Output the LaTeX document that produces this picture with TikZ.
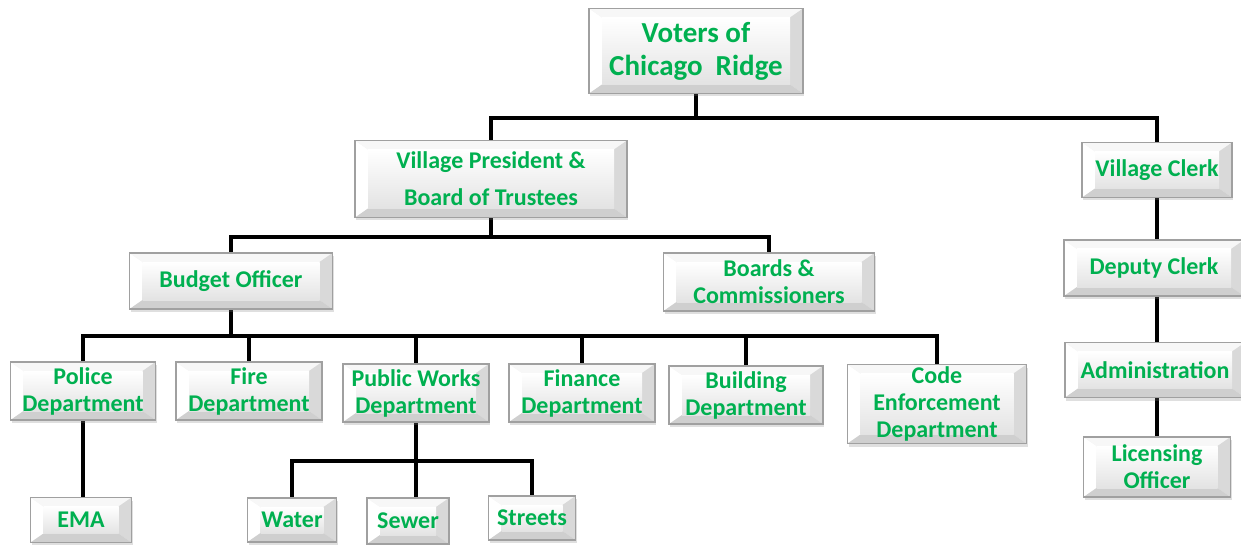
\documentclass[tikz,border=0pt]{standalone}
\usepackage{fontspec}
\setmainfont{Carlito}
\usepackage{tikz}
\usetikzlibrary{calc, shadows, backgrounds}
\definecolor{orggreen}{RGB}{0, 176, 80}
\definecolor{rimgray}{RGB}{160, 160, 160}

\begin{document}
\begin{tikzpicture}[x=1pt, y=-1pt,
    orgbox/.style={rectangle, draw=rimgray, line width=1.2pt, fill=gray!10, align=center,
                   text=orggreen, font=\fontsize{24}{27}\selectfont\bfseries, inner sep=1pt,
                   drop shadow={opacity=0.25, shadow xshift=1pt, shadow yshift=-3pt},
                   path picture={
                     \path (path picture bounding box.south west) coordinate (bsw)
                           (path picture bounding box.north east) coordinate (bne);
                     \path ($(bsw)+(13pt,9pt)$) coordinate (isw)
                           ($(bne)+(-13pt,-9pt)$) coordinate (ine);
                     \fill[white] (bsw) -- (bsw |- bne) -- (isw |- ine) -- (isw) -- cycle;
                     \fill[gray!6] (bsw |- bne) -- (bne) -- (ine) -- (isw |- ine) -- cycle;
                     \fill[gray!30] (bne) -- (bne |- bsw) -- (ine |- isw) -- (ine) -- cycle;
                     \fill[gray!38] (bne |- bsw) -- (bsw) -- (isw) -- (ine |- isw) -- cycle;
                     \shade[top color=white, bottom color=gray!22] (isw) rectangle (ine);
                   }},
    link/.style={line width=4pt, black}
]
\useasboundingbox (0,0) rectangle (1241,545);

\node[orgbox, minimum width=214, minimum height=85, font=\fontsize{29}{33}\selectfont\bfseries]
    (voters) at (696,51) {Voters of\\Chicago~~Ridge};
\node[orgbox, minimum width=272, minimum height=77] (pres) at (491,179) {Village President \&\\[10pt]Board of Trustees};
\node[orgbox, minimum width=150, minimum height=55] (clerk) at (1157,170) {Village Clerk};

\node[orgbox, minimum width=203, minimum height=56] (budget) at (231,281) {Budget Officer};
\node[orgbox, minimum width=211, minimum height=58] (boards) at (769,282) {Boards \&\\Commissioners};
\node[orgbox, minimum width=180, minimum height=56] (deputy) at (1154,268) {Deputy Clerk};
\node[orgbox, minimum width=180, minimum height=55] (admin) at (1155,370) {Administration};
\node[orgbox, minimum width=147, minimum height=60] (licensing) at (1157,467) {Licensing\\Officer};

\node[orgbox, minimum width=145, minimum height=58] (police) at (83,391) {Police\\Department};
\node[orgbox, minimum width=146, minimum height=58] (fire) at (249,391) {Fire\\Department};
\node[orgbox, minimum width=146, minimum height=58] (public) at (416,393) {Public Works\\Department};
\node[orgbox, minimum width=146, minimum height=58] (finance) at (582,393) {Finance\\Department};
\node[orgbox, minimum width=154, minimum height=58] (building) at (746,395) {Building\\Department};
\node[orgbox, minimum width=179, minimum height=79] (code) at (937,404) {Code\\Enforcement\\Department};

\node[orgbox, minimum width=101, minimum height=45] (ema) at (81,520) {EMA};
\node[orgbox, minimum width=89, minimum height=44] (water) at (292,520) {Water};
\node[orgbox, minimum width=82, minimum height=46] (sewer) at (408,521) {Sewer};
\node[orgbox, minimum width=87, minimum height=44] (streets) at (532,518) {Streets};

\coordinate (j1) at (696,118);
\coordinate (j2) at (491,237);
\coordinate (j3) at (231,336);
\coordinate (j4) at (416,461);

\begin{scope}[on background layer]
\draw[link] (voters.south) -- (j1);
\draw[link] (pres.north) |- (j1) -| (clerk.north);
\draw[link] (pres.south) -- (j2);
\draw[link] (budget.north) |- (j2) -| (boards.north);
\draw[link] (budget.south) -- (j3);
\foreach \dept in {police, fire, public, finance, building, code}
    \draw[link] (\dept.north) |- (j3);
\draw[link] (police.south) -- (police.south |- ema.north);
\draw[link] (public.south) -- (j4);
\draw[link] (water.north) |- (j4) -| (streets.north);
\draw[link] (j4) -- (j4 |- sewer.north);
\draw[link] (clerk.south) -- (clerk.south |- deputy.north);
\draw[link] (clerk.south |- deputy.south) -- (clerk.south |- admin.north);
\draw[link] (clerk.south |- admin.south) -- (clerk.south |- licensing.north);
\end{scope}
\end{tikzpicture}
\end{document}
